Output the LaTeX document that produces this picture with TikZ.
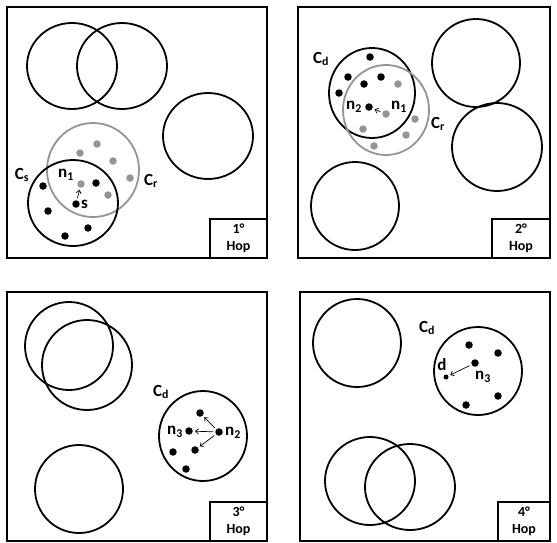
\documentclass[tikz,border=0pt]{standalone}
\usepackage{fontspec}
\setmainfont{Carlito}
\usetikzlibrary{arrows.meta, positioning}
\definecolor{rangegray}{gray}{0.58}

\begin{document}
\begin{tikzpicture}[x=1pt, y=-1pt,
    panel/.style={line width=1.8pt},
    cell/.style={line width=1.8pt},
    rcell/.style={line width=1.8pt, rangegray},
    hopbox/.style={draw, line width=1.6pt, align=center, inner sep=0pt,
                   font=\bfseries\fontsize{14}{17}\selectfont},
    dot/.style={circle, fill=black, inner sep=0pt, minimum size=7.5pt},
    gdot/.style={dot, fill=rangegray},
    lbl/.style={font=\bfseries\fontsize{17}{19}\selectfont, inner sep=1pt},
    arr/.style={-{Straight Barb[length=3pt, width=5pt]}, line width=0.7pt,
                shorten <=2pt, shorten >=2pt}
  ]
    \useasboundingbox (0,0) rectangle (557,542);

    % 1st hop: source s
    \draw[panel] (7,7) rectangle (267,258);
    \draw[cell] (72,66) ellipse (45pt and 43pt);
    \draw[cell] (122,66) ellipse (45pt and 43pt);
    \draw[cell] (208,136) ellipse (45pt and 43pt);
    \draw[rcell] (93,170) ellipse (46pt and 47pt);
    \draw[cell] (73,203) ellipse (45pt and 43pt);
    \foreach \p [count=\i] in {(43,186), (48,211), (65,236), (88,228), (96,183)}
      \node[dot] (p1b\i) at \p {};
    \foreach \p [count=\i] in {(80,153), (97,144), (113,161), (130,178), (108,195)}
      \node[gdot] (p1g\i) at \p {};
    \node[dot]  (p1s)  at (76,204) {};
    \node[gdot] (p1n1) at (81,184) {};
    \draw[arr] (p1s) -- (p1n1);
    \node[lbl] (p1cs) at (22,175) {C\textsubscript{s}};
    \node[lbl] (p1cr) at (151,181) {C\textsubscript{r}};
    \node[lbl] (p1l1) at (66,175) {n\textsubscript{1}};
    \node[lbl, right=0pt of p1s] (p1ls) {s};
    \node[hopbox, minimum width=57pt, minimum height=39pt] (hop1)
      at (238.5,238.5) {1°\\Hop};

    % 2nd hop
    \draw[panel] (298,7) rectangle (550,258);
    \draw[cell] (476,63) ellipse (44pt and 44pt);
    \draw[cell] (497,147) ellipse (45pt and 44pt);
    \draw[cell] (355,206) ellipse (44pt and 44pt);
    \draw[cell] (372,93) ellipse (43pt and 45pt);
    \draw[rcell] (386,110) ellipse (43pt and 45pt);
    \foreach \p [count=\i] in {(370,57), (348,77), (364,84), (381,77), (339,93)}
      \node[dot] (p2b\i) at \p {};
    \foreach \p [count=\i] in {(398,84), (415,119), (406,135), (363,129), (374,146)}
      \node[gdot] (p2g\i) at \p {};
    \node[dot]  (p2n2) at (369,107) {};
    \node[gdot] (p2n1) at (386,114) {};
    \draw[arr] (p2n1) -- (p2n2);
    \node[lbl] (p2cd) at (321,59) {C\textsubscript{d}};
    \node[lbl] (p2cr) at (438,124) {C\textsubscript{r}};
    \node[lbl] (p2l2) at (354,107) {n\textsubscript{2}};
    \node[lbl] (p2l1) at (399,107) {n\textsubscript{1}};
    \node[hopbox, minimum width=58pt, minimum height=39pt] (hop2)
      at (521,238.5) {2°\\Hop};

    % 3rd hop
    \draw[panel] (7,292) rectangle (267,541);
    \draw[cell] (69,346) ellipse (44pt and 44pt);
    \draw[cell] (87,365) ellipse (45pt and 45pt);
    \draw[cell] (79,489) ellipse (44pt and 44pt);
    \draw[cell] (203,436) ellipse (44pt and 45pt);
    \foreach \p [count=\i] in {(200,413), (195,450), (173,452), (186,469)}
      \node[dot] (p3b\i) at \p {};
    \node[dot] (p3n2) at (219,432) {};
    \node[dot] (p3n3) at (189,431) {};
    \draw[arr] (p3n2) -- (p3b1);
    \draw[arr] (p3n2) -- (p3n3);
    \draw[arr] (p3n2) -- (p3b2);
    \node[lbl] (p3cd) at (161,392) {C\textsubscript{d}};
    \node[lbl] (p3l3) at (175,432) {n\textsubscript{3}};
    \node[lbl] (p3l2) at (233,433) {n\textsubscript{2}};
    \node[hopbox, minimum width=57pt, minimum height=39pt] (hop3)
      at (238.5,521.5) {3°\\Hop};

    % 4th hop: destination d
    \draw[panel] (300,292) rectangle (550,541);
    \draw[cell] (357,343) ellipse (44pt and 44pt);
    \draw[cell] (370,481) ellipse (45pt and 44pt);
    \draw[cell] (410,487) ellipse (45pt and 43pt);
    \draw[cell] (478,371) ellipse (44pt and 44pt);
    \foreach \p [count=\i] in {(469,345), (498,353), (466,405), (498,396)}
      \node[dot] (p4b\i) at \p {};
    \node[dot] (p4n3) at (475,363) {};
    \node[dot, minimum size=5pt] (p4d) at (446,377) {};
    \draw[arr] (p4n3) -- (p4d);
    \node[lbl] (p4cd) at (427,328) {C\textsubscript{d}};
    \node[lbl] (p4ld) at (442,365) {d};
    \node[lbl] (p4l3) at (483,377) {n\textsubscript{3}};
    \node[hopbox, minimum width=52pt, minimum height=39pt] (hop4)
      at (524,521.5) {4°\\Hop};
\end{tikzpicture}
\end{document}
